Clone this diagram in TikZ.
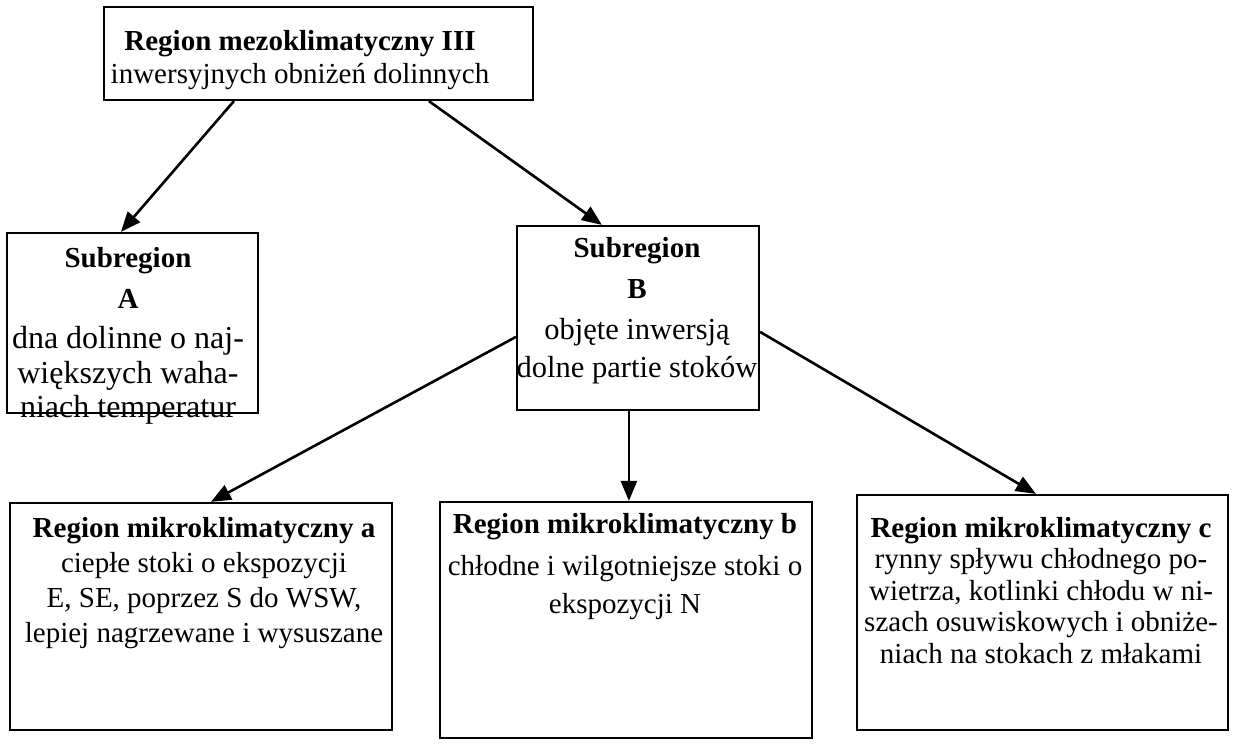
\documentclass[tikz,border=0pt]{standalone}
\usepackage{fontspec}
\setmainfont{Liberation Serif}
\usetikzlibrary{arrows.meta}
\tikzset{
  box/.style={draw, line width=2.2pt, rectangle, inner sep=0pt},
  txt/.style={anchor=base, inner sep=0pt},
  arr/.style={line width=2.6pt, -{Triangle[length=20pt,width=16pt]}},
}
\newcommand{\lines}[2]{\fontsize{29}{#1}\selectfont\setlength{\tabcolsep}{0pt}\begin{tabular}[t]{c}#2\end{tabular}}
\newcommand{\bigA}{\fontsize{32}{34}\selectfont}
\newcommand{\bigB}{\fontsize{30.5}{34}\selectfont}
\begin{document}
\begin{tikzpicture}[x=1pt,y=-1pt]
\useasboundingbox (0,0) rectangle (1236,744);
% boxes
\node[box, minimum width=429pt, minimum height=93pt] (top) at (318.5,53.5) {};
\node[box, minimum width=251pt, minimum height=180pt] (A) at (132.5,323) {};
\node[box, minimum width=242pt, minimum height=184pt] (B) at (638,318) {};
\node[box, minimum width=382pt, minimum height=227pt] (a) at (201,616.5) {};
\node[box, minimum width=372pt, minimum height=236pt] (b) at (626,620) {};
\node[box, minimum width=371pt, minimum height=235pt] (c) at (1042.5,612.5) {};
% texts
\node[txt] (toptxt) at (300,50) {\lines{33}{\textbf{Region mezoklimatyczny III}\\inwersyjnych obniżeń dolinnych}};
\node[txt] (Atxt) at (128,267) {\lines{34}{\textbf{Subregion}\\[7pt]\textbf{A}\\[6pt]\bigA dna dolinne o naj-\\[1pt]\bigA większych waha-\\\bigA niach temperatur}};
\node[txt] (Btxt) at (637,257) {\lines{38}{\textbf{Subregion}\\[3pt]\textbf{B}\\[3pt]\bigB objęte inwersją\\\bigB dolne partie stoków}};
\node[txt] (atxt) at (204,537) {\lines{35}{\textbf{Region mikroklimatyczny a}\\ciepłe stoki o ekspozycji\\E, SE, poprzez S do WSW,\\lepiej nagrzewane i wysuszane}};
\node[txt] (btxt) at (625,533) {\lines{38}{\textbf{Region mikroklimatyczny b}\\[4pt]chłodne i wilgotniejsze stoki o\\ekspozycji N}};
\node[txt] (ctxt) at (1041,537) {\lines{31.5}{\textbf{Region mikroklimatyczny c}\\rynny spływu chłodnego po-\\wietrza, kotlinki chłodu w ni-\\szach osuwiskowych i obniże-\\niach na stokach z młakami}};
% connectors
\draw[arr] ([xshift=131pt]top.south west) -- ([xshift=115pt]A.north west);
\draw[arr] ([xshift=326pt]top.south west) -- ([xshift=86pt]B.north west);
\draw[arr] ([yshift=-112pt]B.north west) -- ([xshift=202pt]a.north west);
\draw[arr] ([xshift=113pt]B.south west) -- ([xshift=190pt]b.north west);
\draw[arr] ([yshift=-107pt]B.north east) -- ([xshift=180pt]c.north west);
\end{tikzpicture}
\end{document}
